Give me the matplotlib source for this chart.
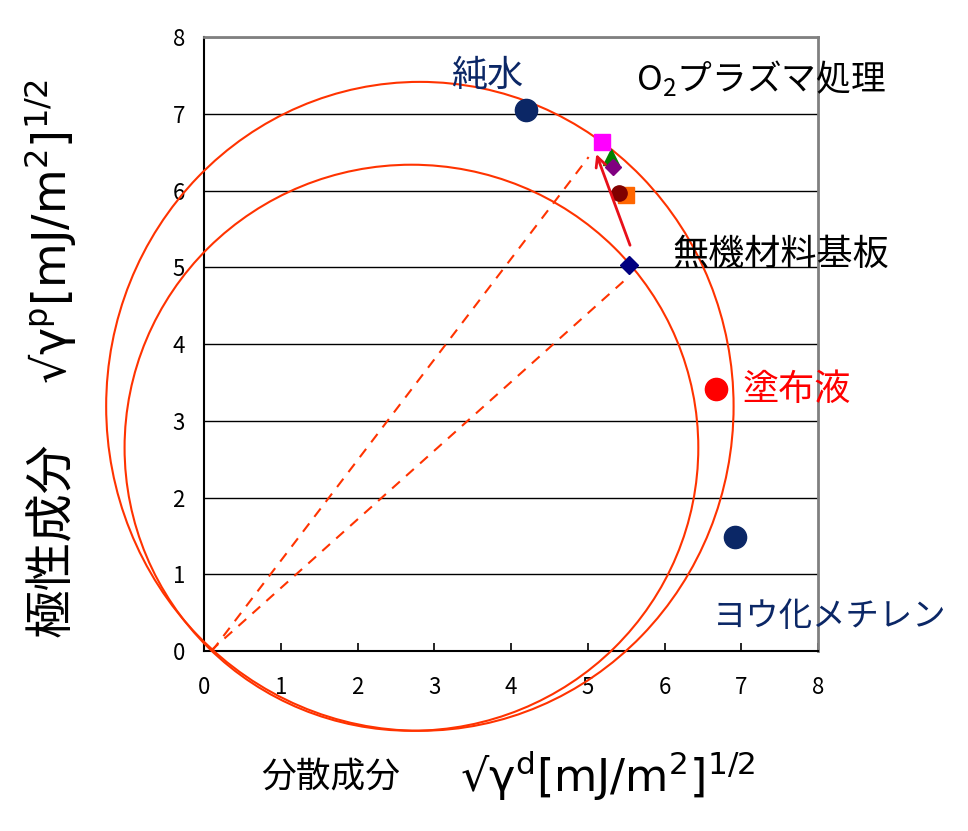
import matplotlib
matplotlib.use("Agg")
import matplotlib.pyplot as plt
from matplotlib.patches import Ellipse

plt.rcParams['font.family'] = ['Noto Sans CJK JP', 'DejaVu Sans']

# ---- data ----
x_ticks = [0, 1, 2, 3, 4, 5, 6, 7, 8]
y_ticks = [0, 1, 2, 3, 4, 5, 6, 7, 8]

liquid_names = ["純水", "塗布液", "ヨウ化メチレン"]
liquid_x = [4.19, 6.67, 6.92]
liquid_y = [7.05, 3.42, 1.49]

substrate_x = [5.53]      # 無機材料基板 (untreated)
substrate_y = [5.03]

treated_x = [5.50, 5.41, 5.30, 5.33, 5.19]   # O2 plasma treated
treated_y = [5.95, 5.97, 6.44, 6.31, 6.63]

circle_cx = [2.81, 2.70]
circle_cy = [3.19, 2.65]
circle_w = [8.18, 7.48]
circle_h = [8.46, 7.38]

dash_start_x = [0.10, 0.08]
dash_start_y = [0.00, 0.00]
dash_end_x = [5.01, 5.51]
dash_end_y = [6.44, 4.86]

arrow_from = (5.55, 5.29)
arrow_to = (5.11, 6.48)

# ---- figure ----
fig = plt.figure(figsize=(9.68, 8.31), dpi=100)
ax = fig.add_axes([0.2111, 0.2166, 0.6339, 0.7384])
ax.set_xlim(0, 8)
ax.set_ylim(0, 8)
ax.set_xticks(x_ticks)
ax.set_yticks(y_ticks)
ax.yaxis.grid(True, color='black', lw=1.0)
ax.set_axisbelow(True)
for s in ['left', 'bottom']:
    ax.spines[s].set_color('black')
    ax.spines[s].set_linewidth(1.5)
for s in ['top', 'right']:
    ax.spines[s].set_color('#808080')
    ax.spines[s].set_linewidth(2.0)
ax.tick_params(direction='in', length=6, width=1.2, labelsize=16)
ax.tick_params(axis='x', pad=18)
ax.tick_params(axis='y', pad=14, length=0)

red_line = '#FF3300'
for cx, cy, w, h in zip(circle_cx, circle_cy, circle_w, circle_h):
    ax.add_patch(Ellipse((cx, cy), w, h, fill=False, edgecolor=red_line,
                         lw=1.5, clip_on=False, zorder=3))

for sx, sy, ex, ey in zip(dash_start_x, dash_start_y, dash_end_x, dash_end_y):
    ax.plot([sx, ex], [sy, ey], ls=(0, (5, 4)), color=red_line, lw=1.5, zorder=3)

navy = '#0B2766'
ax.plot(liquid_x[0], liquid_y[0], 'o', ms=16, color=navy, zorder=5)
ax.plot(liquid_x[1], liquid_y[1], 'o', ms=16, color='#FF0000', zorder=5)
ax.plot(liquid_x[2], liquid_y[2], 'o', ms=16, color=navy, zorder=5, clip_on=False)

ax.plot(substrate_x, substrate_y, 'D', ms=9, color='#000080', zorder=5)

t_markers = ['s', 'o', '^', 'D', 's']
t_colors = ['#FF6600', '#800000', '#008000', '#800080', '#FF00FF']
t_sizes = [12, 11, 11, 8, 12]
for x, y, m, c, s in zip(treated_x, treated_y, t_markers, t_colors, t_sizes):
    ax.plot(x, y, m, ms=s, color=c, zorder=5)

ax.annotate('', xy=arrow_to, xytext=arrow_from,
            arrowprops=dict(arrowstyle='->', color='#E8101A', lw=2.0,
                            mutation_scale=18, shrinkA=0, shrinkB=0),
            zorder=6)

# labels
ax.text(3.69, 7.50, liquid_names[0], fontsize=26, color=navy,
        ha='center', va='center', zorder=7, clip_on=False)
ax.text(7.01, 3.40, liquid_names[1], fontsize=26, color='#FF0000',
        ha='left', va='center', zorder=7, clip_on=False)
ax.text(6.63, 0.45, liquid_names[2], fontsize=24, color=navy,
        ha='left', va='center', zorder=7, clip_on=False)
ax.text(5.63, 7.47, 'O$_\\mathregular{2}$プラズマ処理', fontsize=25, color='black',
        ha='left', va='center', zorder=7, clip_on=False)
ax.text(6.10, 5.16, '無機材料基板', fontsize=26, color='black',
        ha='left', va='center', zorder=7, clip_on=False)

# axis titles
fig.text(331/968, 1-778/831, '分散成分', fontsize=25, ha='center', va='center')
fig.text(608/968, 1-776/831,
         '√γ$^\\mathregular{d}$[mJ/m$^\\mathregular{2}$]$^\\mathregular{1/2}$',
         fontsize=32, ha='center', va='center', family='DejaVu Sans')
fig.text(52/968, 1-540/831, '極性成分', fontsize=35, ha='center', va='center',
         rotation=90)
fig.text(50/968, 1-232/831,
         '√γ$^\\mathregular{p}$[mJ/m$^\\mathregular{2}$]$^\\mathregular{1/2}$',
         fontsize=33, ha='center', va='center', rotation=90, family='DejaVu Sans')

fig.savefig('out.png', dpi=100)
